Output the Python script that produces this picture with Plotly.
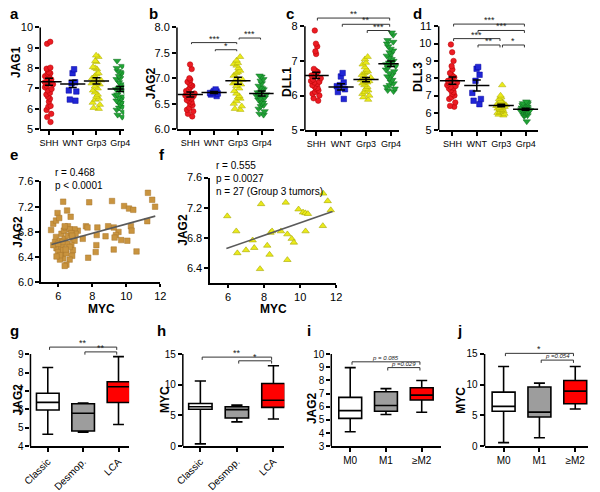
import plotly.graph_objects as go

W, H = 600, 492
FONT = "Liberation Sans, Arial, Helvetica, sans-serif"

# ---------------- data ----------------
groups4 = ["SHH", "WNT", "Grp3", "Grp4"]
histo = ["Classic", "Desmop.", "LCA"]
mstage = ["M0", "M1", "\u2265M2"]

# a: JAG1
a_shh = [9.29, 9.19, 8.02, 7.97, 7.94, 7.8, 7.75, 7.73, 7.65, 7.6, 7.54, 7.5, 7.44, 7.38, 7.35,
         7.3, 7.22, 7.2, 7.13, 7.06, 6.97, 6.9, 6.78, 6.7, 6.59, 6.49, 6.35, 6.14, 6.1, 5.94, 5.75, 5.59, 5.35]
a_wnt = [7.94, 7.75, 7.3, 7.25, 6.9, 6.85, 6.45, 6.4]
a_grp3 = [8.62, 8.55, 8.35, 8.3, 8.05, 8.0, 7.95, 7.75, 7.7, 7.6, 7.5, 7.45, 7.4, 7.35, 7.25, 7.2,
          7.1, 7.0, 6.9, 6.8, 6.7, 6.6, 6.5, 6.45, 6.3, 6.2, 6.05, 6.0]
a_grp4 = [8.35, 8.1, 8.0, 7.85, 7.8, 7.75, 7.6, 7.5, 7.45, 7.3, 7.2, 7.1, 7.05, 7.0, 6.95, 6.9, 6.85,
          6.7, 6.65, 6.6, 6.55, 6.5, 6.4, 6.35, 6.3, 6.2, 6.1, 6.05, 5.95, 5.85, 5.7, 5.6]
a_mean = [7.33, 7.22, 7.37, 6.97]
a_sem = [0.17, 0.18, 0.15, 0.12]

# b: JAG2
b_shh = [7.27, 7.18, 7.0, 6.97, 6.93, 6.9, 6.87, 6.85, 6.82, 6.78, 6.75, 6.72, 6.7, 6.68, 6.66, 6.65,
         6.62, 6.6, 6.57, 6.55, 6.53, 6.5, 6.47, 6.42, 6.38, 6.35, 6.3, 6.25]
b_wnt = [6.78, 6.75, 6.74, 6.72, 6.71, 6.7, 6.68, 6.65]
b_grp3 = [7.42, 7.35, 7.3, 7.28, 7.25, 7.2, 7.15, 7.12, 7.1, 7.05, 7.0, 6.97, 6.93, 6.9, 6.88, 6.85,
          6.8, 6.75, 6.7, 6.65, 6.62, 6.6, 6.55, 6.5, 6.45, 6.4, 6.38]
b_grp4 = [7.05, 7.03, 6.98, 6.95, 6.9, 6.85, 6.82, 6.8, 6.78, 6.75, 6.72, 6.72, 6.7, 6.68, 6.66, 6.65,
          6.62, 6.6, 6.6, 6.58, 6.55, 6.52, 6.5, 6.47, 6.45, 6.4, 6.35, 6.3, 6.28]
b_mean = [6.68, 6.72, 6.95, 6.70]
b_sem = [0.05, 0.02, 0.07, 0.05]

# c: DLL1
c_shh = [7.88, 7.5, 7.42, 7.28, 7.2, 6.77, 6.72, 6.7, 6.68, 6.63, 6.6, 6.58, 6.55, 6.5, 6.46, 6.42,
         6.4, 6.38, 6.34, 6.3, 6.26, 6.22, 6.2, 6.15, 6.1, 6.05, 6.0, 5.92, 5.85]
c_wnt = [6.65, 6.55, 6.38, 6.3, 6.27, 6.18, 6.1, 5.9]
c_grp3 = [7.12, 7.05, 6.95, 6.9, 6.82, 6.75, 6.7, 6.68, 6.65, 6.6, 6.55, 6.52, 6.5, 6.45, 6.42, 6.4,
          6.38, 6.35, 6.3, 6.25, 6.2, 6.15, 6.1, 6.05, 6.0, 5.95, 5.88]
c_grp4 = [7.82, 7.75, 7.6, 7.55, 7.5, 7.42, 7.35, 7.3, 7.25, 7.2, 7.15, 7.1, 7.05, 7.0, 7.0, 6.95,
          6.9, 6.9, 6.85, 6.8, 6.75, 6.7, 6.65, 6.6, 6.55, 6.5, 6.45, 6.4, 6.35, 6.3, 6.25, 6.2, 6.15, 6.12]
c_mean = [6.58, 6.25, 6.46, 6.92]
c_sem = [0.09, 0.09, 0.06, 0.08]

# d: DLL3
d_shh = [9.95, 9.5, 9.0, 8.7, 8.5, 8.3, 8.2, 8.1, 8.05, 8.0, 7.9, 7.85, 7.8, 7.75, 7.7, 7.6, 7.55,
         7.5, 7.45, 7.4, 7.3, 7.2, 7.1, 7.0, 6.9, 6.8, 6.6, 6.4, 6.35]
d_wnt = [8.65, 8.55, 8.2, 7.85, 7.15, 6.8, 6.7, 6.5]
d_grp3 = [7.6, 7.0, 6.9, 6.8, 6.7, 6.65, 6.6, 6.6, 6.55, 6.5, 6.5, 6.45, 6.4, 6.4, 6.35, 6.3, 6.3,
          6.25, 6.2, 6.2, 6.15, 6.1, 6.05, 6.0, 5.95, 5.9, 5.85]
d_grp4 = [6.65, 6.6, 6.55, 6.5, 6.45, 6.4, 6.4, 6.35, 6.35, 6.3, 6.3, 6.28, 6.25, 6.25, 6.22, 6.2,
          6.2, 6.18, 6.15, 6.15, 6.12, 6.1, 6.1, 6.08, 6.05, 6.05, 6.0, 6.0, 5.95, 5.9, 5.9, 5.85, 5.8, 5.5]
d_mean = [7.86, 7.58, 6.42, 6.21]
d_sem = [0.21, 0.32, 0.07, 0.06]

# e: JAG2 vs MYC (all tumours)
e_myc = [5.58, 5.71, 5.87, 5.96, 6.06, 6.29, 6.52, 6.73, 7.82, 9.16, 9.87, 10.16, 10.41, 11.27, 11.52,
         11.69, 11.23, 10.27, 10.31, 10.6, 10.06, 9.70, 9.54, 9.39, 9.26, 9.31, 8.93, 8.78, 9.26, 8.30,
         8.26, 8.24, 8.20, 7.76, 7.63, 7.72, 7.44, 7.15, 6.96, 7.02, 6.86, 6.96, 6.77, 6.86, 6.82, 6.67,
         6.48, 6.38, 6.29, 6.10, 6.19, 5.90, 5.81, 5.71, 5.87, 6.10, 6.19, 6.33, 6.44, 6.57, 6.67, 6.38,
         6.52, 6.67, 6.19, 5.99, 6.29, 6.48, 6.25, 6.57, 6.77, 6.44, 6.10, 5.90, 5.99, 6.82, 6.38]
e_jag2 = [6.83, 6.93, 6.98, 7.10, 7.02, 7.28, 7.14, 7.04, 7.27, 7.29, 7.21, 7.17, 7.15, 7.42, 7.31,
          7.20, 6.97, 6.89, 6.82, 6.49, 6.66, 6.67, 6.80, 6.75, 6.87, 6.71, 6.89, 6.73, 6.52, 6.87,
          6.75, 6.59, 6.48, 6.39, 6.89, 6.87, 6.69, 6.82, 6.84, 6.77, 6.69, 6.66, 6.59, 6.51, 6.42, 6.36,
          6.28, 6.26, 6.38, 6.36, 6.46, 6.54, 6.64, 6.59, 6.72, 6.66, 6.77, 6.82, 6.87, 6.89, 6.84, 6.69,
          6.61, 6.56, 6.56, 6.48, 6.51, 6.46, 6.64, 6.74, 6.78, 6.52, 6.43, 6.41, 6.61, 6.74, 6.89]
e_fit_x = [5.6, 11.7]
e_fit_y = [6.60, 7.05]

# f: JAG2 vs MYC (Group 3)
f_myc = [5.95, 6.45, 6.51, 6.99, 7.36, 7.45, 7.77, 7.83, 8.17, 8.30, 8.35, 8.44, 8.93, 9.20, 9.29,
         9.29, 9.53, 9.65, 9.91, 10.16, 10.29, 10.43, 10.30, 11.26, 11.28, 11.53, 11.70]
f_jag2 = [7.09, 6.89, 6.60, 6.64, 6.77, 6.67, 6.39, 7.25, 6.70, 6.58, 6.87, 6.89, 6.89, 7.27, 6.85,
          6.51, 6.79, 6.74, 7.18, 7.14, 7.13, 7.12, 6.89, 6.96, 7.39, 7.29, 7.17]
f_fit_x = [5.9, 11.8]
f_fit_y = [6.66, 7.15]

# box stats: [lower whisker, q1, median, q3, upper whisker]
g_stats = [[4.65, 5.96, 6.38, 6.87, 8.27], [4.76, 4.82, 5.79, 6.30, 6.34], [5.18, 6.37, 7.23, 7.50, 8.86]]
h_stats = [[0.37, 6.00, 6.42, 6.95, 10.6], [3.95, 4.58, 5.95, 6.42, 6.68], [4.42, 6.32, 7.47, 10.2, 13.1]]
i_stats = [[4.10, 5.11, 5.70, 6.71, 8.97], [5.41, 5.65, 6.09, 7.13, 7.37], [5.58, 6.51, 6.88, 7.44, 7.99]]
j_stats = [[0.58, 5.68, 6.47, 8.79, 12.95], [1.37, 4.74, 5.53, 9.63, 10.26], [6.05, 6.89, 8.95, 10.68, 12.95]]

# significance brackets: (from group, to group, level, label)
b_sig = [(0, 2, 7.70, "***"), (1, 2, 7.56, "*"), (2, 3, 7.79, "***")]
c_sig = [(0, 3, 8.24, "**"), (1, 3, 8.06, "**"), (2, 3, 7.88, "***")]
d_sig = [(0, 3, 11.13, "***"), (1, 3, 10.76, "***"), (0, 2, 10.29, "***"), (1, 2, 9.92, "**"), (2, 3, 9.92, "*")]
g_sig = [(0, 2, 9.38, "**"), (1, 2, 9.12, "**")]
h_sig = [(0, 2, 14.5, "**"), (1, 2, 13.9, "*")]
i_sig = [(0, 2, 9.41, "<i>p = 0.085</i>"), (1, 2, 8.97, "<i>p =0.029</i>")]
j_sig = [(0, 2, 15.1, "*"), (1, 2, 14.0, "<i>p =0.054</i>")]

# ---------------- styling ----------------
RED = "#ec1c24"
BLUE = "#2126d6"
YEL = "#eaea1a"
GRN = "#21a336"
BROWN = "#c9943f"
GRAY = "#9d9d9d"

fig = go.Figure()


def px_x(a, b):
    return [a / W, b / W]


def px_y(top, bottom):
    return [1 - bottom / H, 1 - top / H]


def ax(n):
    return ("x", "y") if n == 1 else (f"x{n}", f"y{n}")


def lay(n):
    return ("xaxis", "yaxis") if n == 1 else (f"xaxis{n}", f"yaxis{n}")


def setup_axes(n, xdom, ydom, xr, yr, xtv, xtt, ytv, yfmt=None, xangle=0, yline_top=None,
               own_yline=True, xfs=10, yfs=11, xticklen=4):
    xa, ya = ax(n)
    lx, ly = lay(n)
    fig.layout[lx] = dict(domain=xdom, range=xr, anchor=ya, tickvals=xtv, ticktext=xtt,
                          showline=True, linewidth=1.5, linecolor="black", ticks="outside",
                          ticklen=xticklen, tickwidth=1.5, tickcolor="black", showgrid=False,
                          zeroline=False, tickangle=xangle,
                          tickfont=dict(size=xfs, color="black", family=FONT))
    fig.layout[ly] = dict(domain=ydom, range=yr, anchor=xa, tickvals=ytv,
                          showline=not own_yline, linewidth=1.5, linecolor="black",
                          ticks="outside", ticklen=4, tickwidth=1.5, tickcolor="black",
                          showgrid=False, zeroline=False,
                          tickfont=dict(size=yfs, color="black", family=FONT))
    if yfmt:
        fig.layout[ly].tickformat = yfmt
    if own_yline:
        fig.add_shape(type="line", xref=f"{xa} domain", yref=ya, x0=0, x1=0,
                      y0=yr[0], y1=yline_top, line=dict(color="black", width=1.5))


def swarm(n, pos, vals, symbol, color, lcolor, size=6):
    xa, ya = ax(n)
    fig.add_trace(go.Box(x=[pos] * len(vals), y=vals, xaxis=xa, yaxis=ya, orientation="v",
                         boxpoints="all", jitter=0.62, pointpos=0, width=0.7,
                         fillcolor="rgba(0,0,0,0)", line=dict(width=0, color="rgba(0,0,0,0)"),
                         marker=dict(symbol=symbol, color=color, size=size,
                                     line=dict(color=lcolor, width=0.5)),
                         showlegend=False, hoverinfo="skip"))


def mean_sem(n, means, sems):
    xa, ya = ax(n)
    fig.add_trace(go.Scatter(x=list(range(len(means))), y=means, xaxis=xa, yaxis=ya, mode="markers",
                             marker=dict(symbol="line-ew", size=18, color="black",
                                         line=dict(width=1.5, color="black")),
                             error_y=dict(type="data", array=sems, width=4, thickness=1.5,
                                          color="black"),
                             showlegend=False, hoverinfo="skip"))


def brackets(n, sig, drop):
    xa, ya = ax(n)
    for g1, g2, lvl, lab in sig:
        small = lab.startswith("<i>")
        x1, x2 = g1 + 0.05, g2 - 0.05
        fig.add_trace(go.Scatter(x=[x1, x1, x2, x2], y=[lvl - drop, lvl, lvl, lvl - drop],
                                 xaxis=xa, yaxis=ya, mode="lines",
                                 line=dict(color="#333333", width=1), showlegend=False,
                                 hoverinfo="skip"))
        fig.add_annotation(x=(g1 + g2) / 2, y=lvl, xref=xa, yref=ya, text=lab, showarrow=False,
                           yanchor="bottom", yshift=-1 if small else -3,
                           font=dict(size=6 if small else 9, color="#222222", family=FONT))


def boxes(n, stats, fills):
    xa, ya = ax(n)
    for k, (s, fc) in enumerate(zip(stats, fills)):
        fig.add_trace(go.Box(x=[k], lowerfence=[s[0]], q1=[s[1]], median=[s[2]], q3=[s[3]],
                             upperfence=[s[4]], xaxis=xa, yaxis=ya, width=0.64,
                             whiskerwidth=0.48, fillcolor=fc, boxpoints=False,
                             line=dict(color="black", width=1.6), showlegend=False,
                             hoverinfo="skip"))


def text(xp, yp, s, size, bold=False, angle=0, xanchor="center", yanchor="middle", align="center",
         color="black"):
    fig.add_annotation(x=xp / W, y=1 - yp / H, xref="paper", yref="paper",
                       text=f"<b>{s}</b>" if bold else s, showarrow=False, textangle=angle,
                       xanchor=xanchor, yanchor=yanchor, align=align,
                       font=dict(size=size, color=color, family=FONT))


cat4 = [0, 1, 2, 3]
cat3 = [0, 1, 2]
sym4 = [("circle", RED, "#b00000"), ("square", BLUE, "#0000a0"),
        ("triangle-up", YEL, "#a8a800"), ("triangle-down", GRN, "#0d6a1c")]

# ---- row 1 ----
row1 = [
    (1, px_x(33, 119), px_y(22, 127), [-0.37, 3.17], [5, 10], [5, 6, 7, 8, 9, 10], None, 10,
     [a_shh, a_wnt, a_grp3, a_grp4], a_mean, a_sem, [], 0),
    (2, px_x(173, 272), px_y(22, 127), [-0.56, 3.5], [6, 8], [6, 6.5, 7, 7.5, 8], ".1f", 8,
     [b_shh, b_wnt, b_grp3, b_grp4], b_mean, b_sem, b_sig, 0.03),
    (3, px_x(304, 400), px_y(10.3, 128), [-0.45, 3.31], [5, 8.3], [5, 6, 7, 8], None, 8,
     [c_shh, c_wnt, c_grp3, c_grp4], c_mean, c_sem, c_sig, 0.07),
    (4, px_x(441, 543), px_y(17.4, 128), [-0.56, 3.52], [5, 11.2], [5, 6, 7, 8, 9, 10, 11], None, 11,
     [d_shh, d_wnt, d_grp3, d_grp4], d_mean, d_sem, d_sig, 0.14),
]
for n, xd, yd, xr, yr, ytv, yfmt, ytop, series, mn, se, sig, drop in row1:
    setup_axes(n, xd, yd, xr, yr, cat4, groups4, ytv, yfmt=yfmt, yline_top=ytop, xfs=9)
    for k, vals in enumerate(series):
        s, c, lc = sym4[k]
        swarm(n, k, vals, s, c, lc, size=5.5 if k < 2 else 6.5)
    mean_sem(n, mn, se)
    if sig:
        brackets(n, sig, drop)

# ---- row 2 : correlations ----
setup_axes(5, px_x(34, 156), px_y(181, 285), [5, 12], [6, 7.6], [6, 8, 10, 12], ["6", "8", "10", "12"],
           [6.0, 6.4, 6.8, 7.2, 7.6], yfmt=".1f", own_yline=False, xfs=11, xticklen=3)
fig.add_trace(go.Scatter(x=e_myc, y=e_jag2, xaxis="x5", yaxis="y5", mode="markers",
                         marker=dict(symbol="square", size=5.5, color=BROWN,
                                     line=dict(color="#a8772c", width=0.5)),
                         showlegend=False, hoverinfo="skip"))
fig.add_trace(go.Scatter(x=e_fit_x, y=e_fit_y, xaxis="x5", yaxis="y5", mode="lines",
                         line=dict(color="#5a5a5a", width=1.6), showlegend=False, hoverinfo="skip"))

setup_axes(6, px_x(207, 336), px_y(177, 286), [5, 12], [6.2, 7.6], [6, 8, 10, 12], ["6", "8", "10", "12"],
           [6.4, 6.8, 7.2, 7.6], yfmt=".1f", own_yline=False, xfs=11, xticklen=3)
fig.add_trace(go.Scatter(x=f_myc, y=f_jag2, xaxis="x6", yaxis="y6", mode="markers",
                         marker=dict(symbol="triangle-up", size=6.5, color=YEL,
                                     line=dict(color="#a8a800", width=0.6)),
                         showlegend=False, hoverinfo="skip"))
fig.add_trace(go.Scatter(x=f_fit_x, y=f_fit_y, xaxis="x6", yaxis="y6", mode="lines",
                         line=dict(color="#5a5a5a", width=1.6), showlegend=False, hoverinfo="skip"))

# ---- row 3 : box plots ----
fills = ["white", GRAY, "#ff0000"]
row3 = [
    (7, px_x(23, 124), px_y(350.5, 454), [-0.49, 2.3], [4, 9.45], [4, 5, 6, 7, 8, 9], 9, histo, -45),
    (8, px_x(179, 283), px_y(359, 454), [-0.48, 2.3], [0, 15], [0, 5, 10, 15], 15, histo, -45),
    (9, px_x(331, 443), px_y(359, 454), [-0.53, 2.53], [3, 10], [3, 4, 5, 6, 7, 8, 9, 10], 10, mstage, 0),
    (10, px_x(488, 594), px_y(357, 454), [-0.53, 2.36], [0, 15.3], [0, 5, 10, 15], 15, mstage, 0),
]
stats3 = {7: g_stats, 8: h_stats, 9: i_stats, 10: j_stats}
for n, xd, yd, xr, yr, ytv, ytop, labs, ang in row3:
    setup_axes(n, xd, yd, xr, yr, cat3, labs, ytv, yline_top=ytop, xangle=ang, xfs=10, yfs=10)
    boxes(n, stats3[n], fills)
for n, sig, drop in [(7, g_sig, 0.15), (8, h_sig, 0.45), (9, i_sig, 0.22), (10, j_sig, 0.45)]:
    brackets(n, sig, drop)

# ---- texts ----
for lab, xp, yp in [("a", 0, 8), ("b", 142, 8), ("c", 283, 8), ("d", 413, 8), ("e", 0, 153),
                    ("f", 153, 153), ("g", 0, 335), ("h", 150, 335), ("i", 304, 335), ("j", 458, 335)]:
    text(xp, yp, lab, 15, bold=True, xanchor="left")

for s, xp, yp in [("JAG1", 8, 58), ("JAG2", 146, 80), ("DLL1", 285, 78), ("DLL3", 420, 73),
                  ("JAG2", 10, 233), ("JAG2", 179, 231), ("JAG2", 10, 406), ("MYC", 160, 406),
                  ("JAG2", 312, 415), ("MYC", 463, 407)]:
    text(xp, yp, s, 12, bold=True, angle=-90)
text(96, 313, "MYC", 12, bold=True)
text(272, 313, "MYC", 12, bold=True)

text(46, 163.5, "r = 0.468<br>p < 0.0001", 10, xanchor="left", yanchor="top", align="left")
text(211, 157, "r = 0.555<br>p = 0.0027<br>n = 27 (Group 3 tumors)", 10, xanchor="left",
     yanchor="top", align="left")

fig.update_layout(width=W, height=H, margin=dict(l=0, r=0, t=0, b=0), paper_bgcolor="white",
                  plot_bgcolor="white", boxmode="overlay", showlegend=False,
                  font=dict(family=FONT, color="black"))

fig.write_html("out.html", config={"displayModeBar": False},
               post_script="document.body.style.margin='0';document.body.style.overflow='hidden';")
